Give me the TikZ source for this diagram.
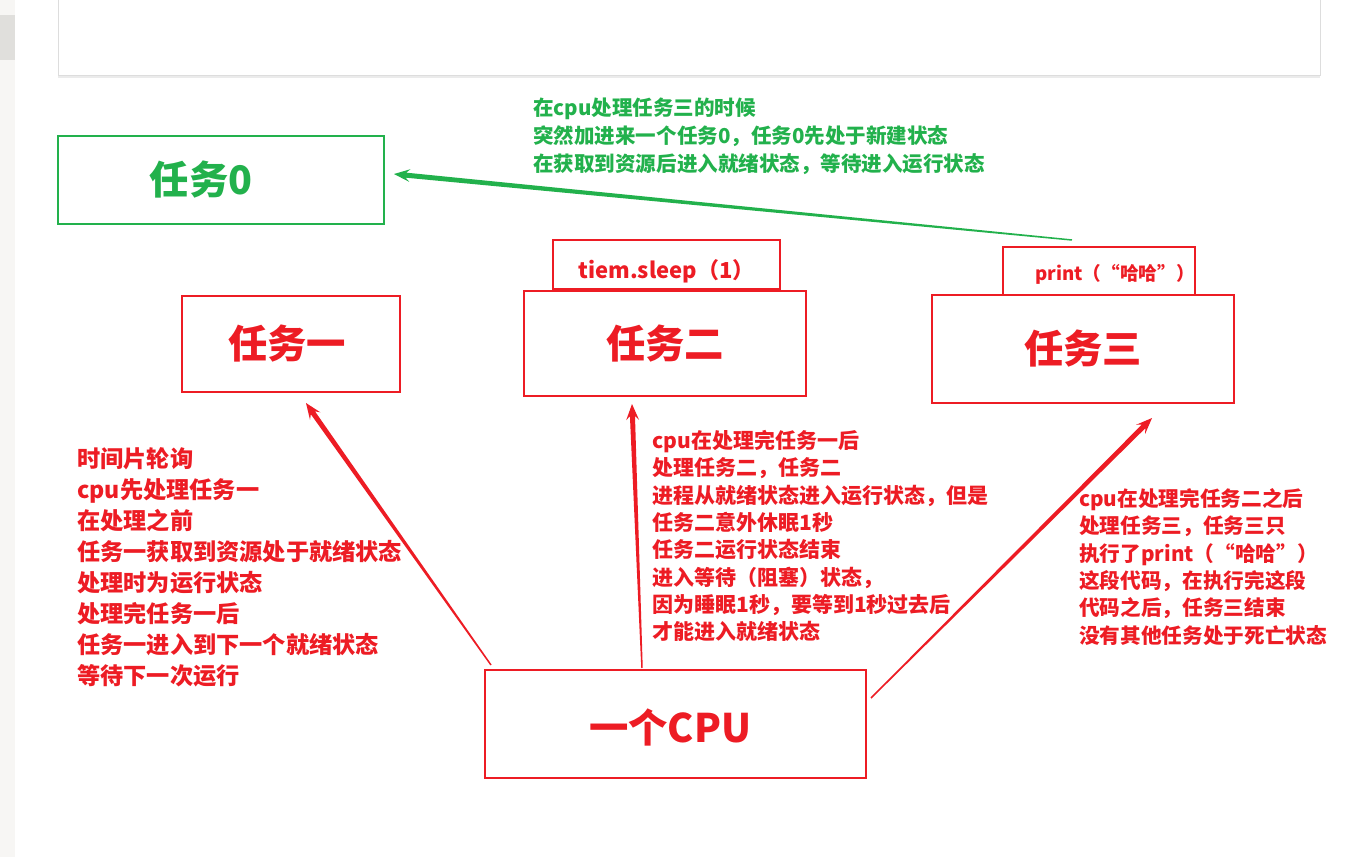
\documentclass[tikz,border=0pt]{standalone}
\usepackage{fontspec}
\setmainfont{Noto Sans CJK SC}
\usetikzlibrary{calc}
\definecolor{pred}{HTML}{ED1C24}
\definecolor{pgreen}{HTML}{22B14C}
\definecolor{sbar}{HTML}{F7F6F4}
\definecolor{sthumb}{HTML}{E0DFDC}
\definecolor{pframe}{HTML}{DDDDDD}
\tikzset{
  taskbox/.style={draw=pred, line width=1.5pt, inner sep=0pt, text=pred,
    font=\fontsize{29.5}{34}\selectfont\bfseries},
  greenbox/.style={taskbox, draw=pgreen, text=pgreen},
  codebox/.style={taskbox, font=\fontsize{16.5}{19}\selectfont\bfseries},
  note/.style={align=left, anchor=north west, inner sep=0pt, text=pred},
  boxsize/.style 2 args={minimum width={#1*0.75pt}, minimum height={#2*0.75pt}},
}
% tapered arrow: #1 tail, #2 head, #3 colour
\newcommand\taperarrow[3]{%
  \coordinate (tpB) at ($(#2)!9pt!(#1)$);
  \coordinate (tpW) at ($(#2)!12pt!(#1)$);
  \fill[#3] ($(#1)!0.55pt!90:(#2)$) -- ($(tpB)!1.9pt!90:(#2)$)
    -- ($(tpW)!4.8pt!90:(#2)$) -- (#2) -- ($(tpW)!4.8pt!-90:(#2)$)
    -- ($(tpB)!1.9pt!-90:(#2)$) -- ($(#1)!0.55pt!-90:(#2)$) -- cycle;
}
\begin{document}
\begin{tikzpicture}[x=0.75pt, y=-0.75pt]
\useasboundingbox (0,0) rectangle (1361,857);
\fill[white] (0,0) rectangle (1361,857);
% window chrome
\fill[sbar] (0,0) rectangle (15,857);
\fill[sthumb] (0,15) rectangle (15,60);
\draw[pframe, line width=0.75pt] (58,-2) -- (58,75) -- (1320,75) -- (1320,-2);
\draw[black!8, line width=1.5pt] (58,77) -- (1320,77);

% boxes
\node[greenbox, boxsize={326}{88}] (t0) at (221,180) {任务0\kern30pt};
\node[taskbox, boxsize={218}{96}] (t1) at (291,344) {\kern-6pt任务一};
\node[taskbox, boxsize={282}{105}] (t2) at (665,343.5) {任务二};
\node[taskbox, boxsize={302}{108}] (t3) at (1083,349) {任务三};
\node[codebox, boxsize={227}{49}] (sl) at (666.5,264.5) {\raisebox{-10.4pt}[0pt][0pt]{tiem.sleep（1）}};
\node[codebox, boxsize={186}{48}, font=\fontsize{14}{17}\selectfont\bfseries] (pr) at (1099,271) {\kern24pt\raisebox{-6.8pt}[0pt][0pt]{print（“哈哈”）}};
\node[taskbox, boxsize={381}{108}] (cpu) at (675.5,724) {\raisebox{-14pt}[0pt][0pt]{一个CPU}\kern8pt};

% notes
\node[note, text=pgreen, font=\fontsize{15.4}{21}\selectfont\bfseries] (ng) at (533,98)
  {在cpu处理任务三的时候\\突然加进来一个任务0，任务0先处于新建状态\\在获取到资源后进入就绪状态，等待进入运行状态};
\node[note, font=\fontsize{17.4}{23.25}\selectfont\bfseries] (n1) at (77,447)
  {时间片轮询\\cpu先处理任务一\\在处理之前\\任务一获取到资源处于就绪状态\\处理时为运行状态\\处理完任务一后\\任务一进入到下一个就绪状态\\等待下一次运行};
\node[note, font=\fontsize{15.75}{20.5}\selectfont\bfseries] (n2) at (652,430)
  {cpu在处理完任务一后\\处理任务二，任务二\\进程从就绪状态进入运行状态，但是\\任务二意外休眠1秒\\任务二运行状态结束\\进入等待（阻塞）状态，\\因为睡眠1秒，要等到1秒过去后\\才能进入就绪状态};
\node[note, font=\fontsize{15.5}{20.55}\selectfont\bfseries] (n3) at (1079,488)
  {cpu在处理完任务二之后\\处理任务三，任务三只\\执行了print（“哈哈”）\\这段代码，在执行完这段\\代码之后，任务三结束\\没有其他任务处于死亡状态};

% connector ends
\coordinate (g0) at ($(pr.north)+(-27,-6)$);
\coordinate (g1) at ($(t0.east)+(9,-6)$);
\coordinate (a1t) at ($(cpu.north west)+(7,-4)$);
\coordinate (a1h) at ($(t1.south)+(15,10)$);
\coordinate (a2t) at ($(cpu.north)+(-33.5,-1)$);
\coordinate (a2h) at ($(t2.south)+(-33,7)$);
\coordinate (a3t) at ($(cpu.east)+(4,-26)$);
\coordinate (a3h) at ($(t3.south)+(69,14)$);

\taperarrow{g0}{g1}{pgreen}
\taperarrow{a1t}{a1h}{pred}
\taperarrow{a2t}{a2h}{pred}
\taperarrow{a3t}{a3h}{pred}
\end{tikzpicture}
\end{document}
